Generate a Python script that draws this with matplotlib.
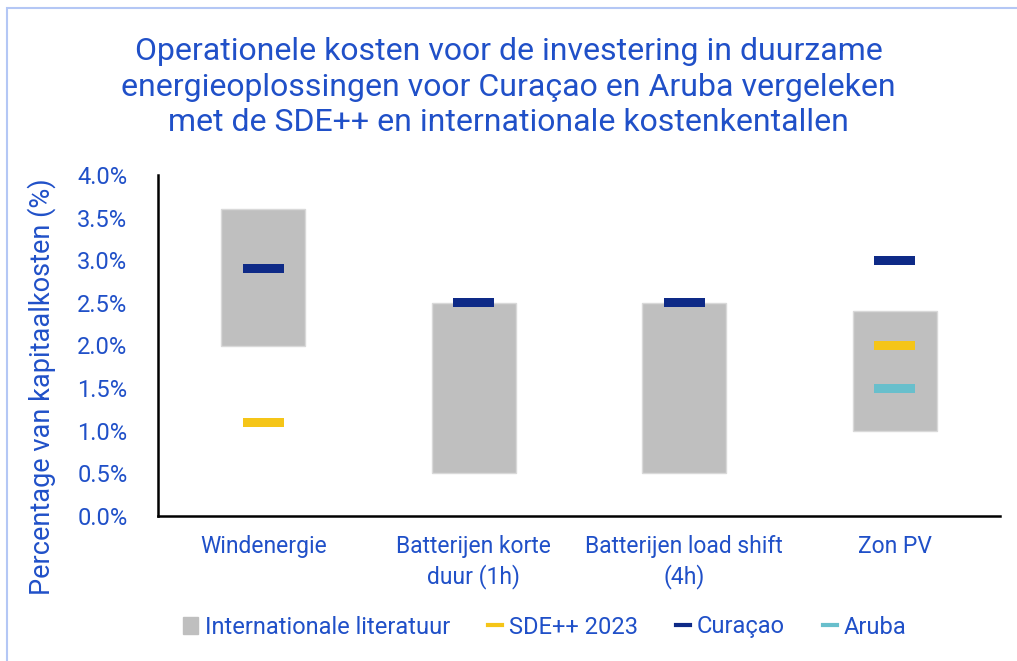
import matplotlib.pyplot as plt
from matplotlib.patches import Patch, Rectangle
from matplotlib.lines import Line2D

categories = ["Windenergie", "Batterijen korte\nduur (1h)", "Batterijen load shift\n(4h)", "Zon PV"]
lit_low = [2.0, 0.5, 0.5, 1.0]
lit_high = [3.6, 2.5, 2.5, 2.4]
sde = [1.1, None, None, 2.0]
curacao = [2.9, 2.5, 2.5, 3.0]
aruba = [None, None, None, 1.5]

blue_text = "#2050C8"
c_gray = "#BFBFBF"
c_sde = "#F5C518"
c_cur = "#0E2A87"
c_aru = "#68BFCC"

plt.rcParams["font.family"] = ["Roboto", "DejaVu Sans"]

fig = plt.figure(figsize=(10.17, 6.61), dpi=100)
ax = fig.add_axes([158 / 1017, 1 - 516 / 661, 842 / 1017, 341 / 661])

x = list(range(len(categories)))
ax.bar(x, [h - l for h, l in zip(lit_high, lit_low)], bottom=lit_low, width=0.4,
       color=c_gray, edgecolor="#D9D9D9", linewidth=1, zorder=2)

mh = 0.105
for vals, col in [(sde, c_sde), (curacao, c_cur), (aruba, c_aru)]:
    xs = [i for i, v in zip(x, vals) if v is not None]
    vs = [v for v in vals if v is not None]
    ax.bar(xs, [mh] * len(vs), bottom=[v - mh / 2 for v in vs], width=0.195, color=col, zorder=3)

ax.set_xlim(-0.5, 3.5)
ax.set_ylim(0, 4.0)
ax.set_yticks([i * 0.5 for i in range(9)])
ax.set_yticklabels([f"{i * 0.5:.1f}%" for i in range(9)])
ax.set_xticks(x)
ax.set_xticklabels(categories, linespacing=1.3)
ax.tick_params(axis="y", length=0, labelsize=17, labelcolor=blue_text, pad=22)
ax.tick_params(axis="x", length=0, labelsize=16.5, labelcolor=blue_text, pad=14)
for s in ["top", "right"]:
    ax.spines[s].set_visible(False)
for s in ["left", "bottom"]:
    ax.spines[s].set_linewidth(1.8)
    ax.spines[s].set_color("black")

fig.text(0.5, 1 - 87 / 661,
         "Operationele kosten voor de investering in duurzame\n"
         "energieoplossingen voor Curaçao en Aruba vergeleken\n"
         "met de SDE++ en internationale kostenkentallen",
         ha="center", va="center", fontsize=23, color=blue_text,
         linespacing=1.3)

fig.text(42 / 1017, 1 - 387 / 661, "Percentage van kapitaalkosten (%)", rotation=90,
         ha="center", va="center", fontsize=19.5, color=blue_text)

handles = [Patch(color=c_gray),
           Line2D([], [], color=c_sde, lw=3),
           Line2D([], [], color=c_cur, lw=3),
           Line2D([], [], color=c_aru, lw=3)]
labels = ["Internationale literatuur", "SDE++ 2023", "Curaçao", "Aruba"]
leg = fig.legend(handles, labels, loc="center", bbox_to_anchor=(545 / 1017, 1 - 627 / 661),
                 ncol=4, frameon=False, fontsize=17, handlelength=0.6, handletextpad=0.3,
                 columnspacing=1.6, labelcolor=blue_text)

fig.patches.append(Rectangle((7 / 1017, -0.05), 1.1, 1 - 8 / 661 + 0.05, transform=fig.transFigure,
                             fill=False, edgecolor="#B4C7F5", linewidth=1.5, zorder=0))

fig.savefig("out.png", dpi=100)
